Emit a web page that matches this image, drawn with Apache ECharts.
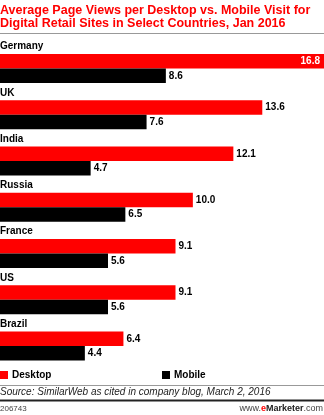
<!DOCTYPE html>
<html>
<head>
<meta charset="utf-8">
<script src="https://cdn.jsdelivr.net/npm/echarts@6/dist/echarts.min.js"></script>
<style>
  html, body { margin: 0; padding: 0; background: #fff; }
  #chart { width: 324px; height: 415px; }
</style>
</head>
<body>
<div id="chart"></div>
<script>
// Average page views per visit, Jan 2016
const countries = ['Germany', 'UK', 'India', 'Russia', 'France', 'US', 'Brazil'];
const desktop = [16.8, 13.6, 12.1, 10.0, 9.1, 9.1, 6.4];
const mobile = [8.6, 7.6, 4.7, 6.5, 5.6, 5.6, 4.4];

const FONT = '"Liberation Sans", Arial, sans-serif';
const RED = '#ff0000';

const chart = echarts.init(document.getElementById('chart'), null, { renderer: 'canvas' });

// The longest bar carries its value inside, in white
const maxDesktop = Math.max(...desktop);
const desktopData = desktop.map(v => v === maxDesktop
  ? { value: v, label: { position: 'insideRight', color: '#fff', distance: 4 } }
  : v);

const valueLabel = {
  show: true,
  position: 'right',
  distance: 3,
  color: '#000',
  fontFamily: FONT,
  fontWeight: 'bold',
  fontSize: 10,
  formatter: p => p.value.toFixed(1)
};

chart.setOption({
  animation: false,
  title: {
    text: 'Average Page Views per Desktop vs. Mobile Visit for\nDigital Retail Sites in Select Countries, Jan 2016',
    left: 0,
    top: 4,
    padding: 0,
    textStyle: {
      color: RED,
      fontFamily: FONT,
      fontWeight: 'bold',
      fontSize: 12.5,
      lineHeight: 13
    }
  },
  legend: [
    {
      data: ['Desktop'],
      left: 0,
      top: 370,
      padding: 0,
      itemWidth: 8,
      itemHeight: 8,
      itemGap: 4,
      icon: 'rect',
      selectedMode: false,
      textStyle: { fontFamily: FONT, fontWeight: 'bold', fontSize: 10, color: '#000', padding: [0, 0, 0, -1] }
    },
    {
      data: ['Mobile'],
      left: 162,
      top: 370,
      padding: 0,
      itemWidth: 8,
      itemHeight: 8,
      itemGap: 4,
      icon: 'rect',
      selectedMode: false,
      textStyle: { fontFamily: FONT, fontWeight: 'bold', fontSize: 10, color: '#000', padding: [0, 0, 0, -1] }
    }
  ],
  grid: {
    left: 0,
    right: 0,
    top: 45.4,
    height: 323.75,
    containLabel: false,
    outerBoundsMode: 'none'
  },
  xAxis: {
    type: 'value',
    min: 0,
    max: 16.8,
    show: false
  },
  yAxis: {
    type: 'category',
    data: countries,
    inverse: true,
    axisLine: { show: false },
    axisTick: { show: false },
    splitLine: { show: false },
    axisLabel: {
      inside: true,
      margin: 0,
      align: 'left',
      verticalAlign: 'bottom',
      lineHeight: 43.6,
      color: '#000',
      fontFamily: FONT,
      fontWeight: 'bold',
      fontSize: 10
    },
    z: 10
  },
  series: [
    {
      name: 'Desktop',
      type: 'bar',
      data: desktopData,
      barWidth: 14.5,
      barGap: '0%',
      itemStyle: { color: RED },
      label: valueLabel
    },
    {
      name: 'Mobile',
      type: 'bar',
      data: mobile,
      barWidth: 14.5,
      barGap: '0%',
      itemStyle: { color: '#000' },
      label: valueLabel
    }
  ],
  graphic: [
    // rule under the title
    { type: 'rect', shape: { x: 0, y: 33, width: 324, height: 1 }, style: { fill: '#999' } },
    // rule above the source note
    { type: 'rect', shape: { x: 0, y: 385, width: 324, height: 1 }, style: { fill: '#999' } },
    {
      type: 'text', left: 0, top: 387,
      style: { text: 'Source: SimilarWeb as cited in company blog, March 2, 2016', fill: '#222',
        font: 'italic 10px "Liberation Sans", Arial, sans-serif' }
    },
    // heavy rule above the footer
    { type: 'rect', shape: { x: 0, y: 399.5, width: 324, height: 2 }, style: { fill: '#222' } },
    {
      type: 'text', left: 0, top: 405,
      style: { text: '206743', fill: '#444', font: '8px "Liberation Sans", Arial, sans-serif' }
    },
    {
      type: 'text', right: 1, top: 404,
      style: {
        text: '{a|www.}{e|e}{m|Marketer}{a|.com}',
        rich: {
          a: { fill: '#444', font: '9px "Liberation Sans", Arial, sans-serif' },
          e: { fill: RED, font: 'bold 9px "Liberation Sans", Arial, sans-serif' },
          m: { fill: '#222', font: 'bold 9px "Liberation Sans", Arial, sans-serif' }
        }
      }
    }
  ]
});
</script>
</body>
</html>
